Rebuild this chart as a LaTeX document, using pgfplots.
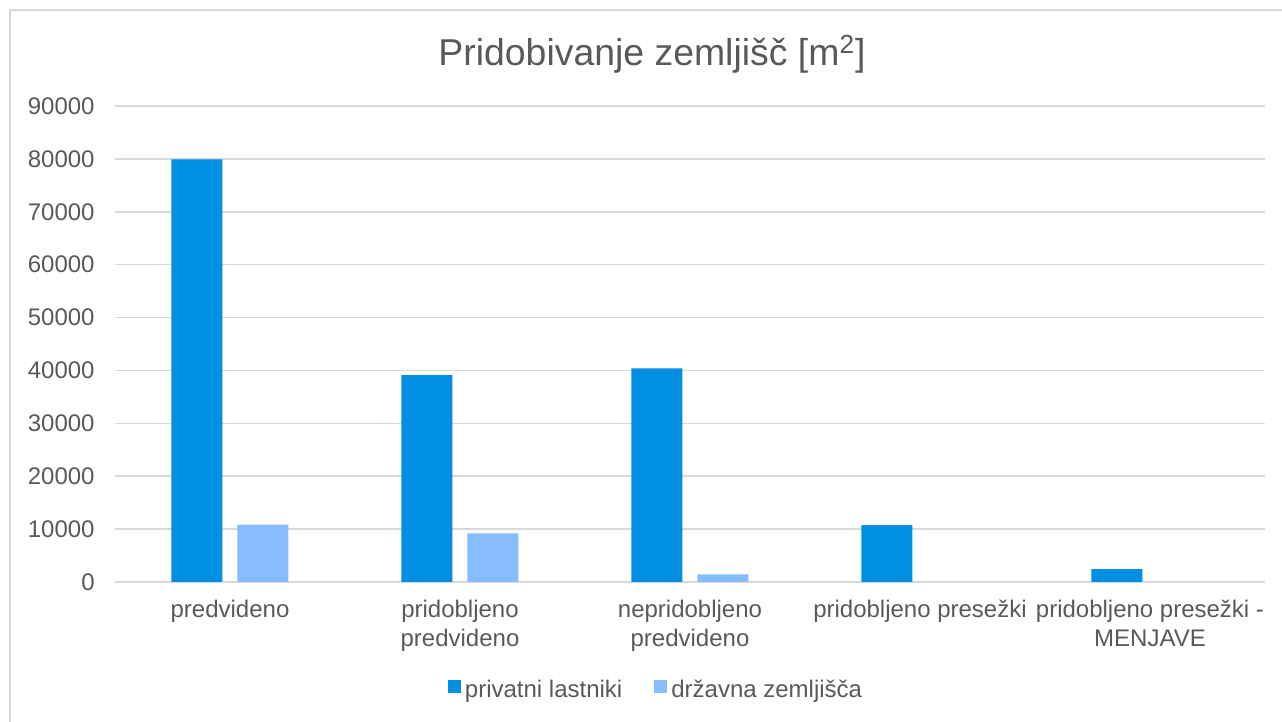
\documentclass[border=0pt]{standalone}
\usepackage{fontspec}
\setmainfont{Liberation Sans}
\usepackage{pgfplots}
\pgfplotsset{compat=1.18}
\definecolor{priv}{HTML}{008FE3}
\definecolor{drz}{HTML}{87BDFF}
\definecolor{gridc}{HTML}{D9D9D9}
\definecolor{txt}{HTML}{595959}
\begin{document}
\begin{tikzpicture}
\useasboundingbox (0,0) rectangle (641pt,361pt);
\clip (0,0) rectangle (641pt,361pt);
\draw[gridc, line width=0.6pt] (5pt,-10pt) -- (5pt,356pt) -- (660pt,356pt);
\node[txt, anchor=base, font=\fontsize{18.7}{22}\selectfont] at (326pt,328pt) {Pridobivanje zemljišč [m\textsuperscript{2}]};
\begin{axis}[
  at={(57.5pt,70pt)}, anchor=south west,
  scale only axis, width=575pt, height=238pt,
  ybar=7.5pt, bar width=25.5pt,
  xmin=-0.5, xmax=4.5, ymin=0, ymax=90000,
  enlargelimits=false,
  axis line style={draw=none},
  major tick length=0pt,
  ymajorgrids, grid style={gridc, line width=0.75pt},
  ytick={0,10000,...,90000},
  xtick={0,1,2,3,4},
  xticklabels={predvideno, {pridobljeno\\predvideno}, {nepridobljeno\\predvideno}, {pridobljeno presežki}, {pridobljeno presežki -\\MENJAVE}},
  xticklabel style={align=center, font=\fontsize{12}{14.5}\selectfont, text=txt, inner sep=0pt, anchor=north, yshift=-9pt},
  yticklabel style={font=\fontsize{12}{14.5}\selectfont, text=txt, inner sep=0pt, anchor=east, xshift=-10pt},
  /pgf/number format/1000 sep={},
  /pgf/number format/assume math mode=true,
  scaled y ticks=false,
  legend columns=2,
  legend style={draw=none, fill=none, at={(271pt,-54pt)}, anchor=center, font=\fontsize{12}{14.5}\selectfont, text=txt, /tikz/every even column/.append style={column sep=14pt}},
  legend image code/.code={\fill[#1] (0pt,-1.5pt) rectangle (6.5pt,5pt);},
  clip=false,
]
\addplot[fill=priv, draw=none] coordinates {(0,79900) (1,39100) (2,40400) (3,10750) (4,2450)};
\addplot[fill=drz, draw=none] coordinates {(0,10850) (1,9200) (2,1450)};
\legend{privatni lastniki, državna zemljišča}
\end{axis}
\end{tikzpicture}
\end{document}
